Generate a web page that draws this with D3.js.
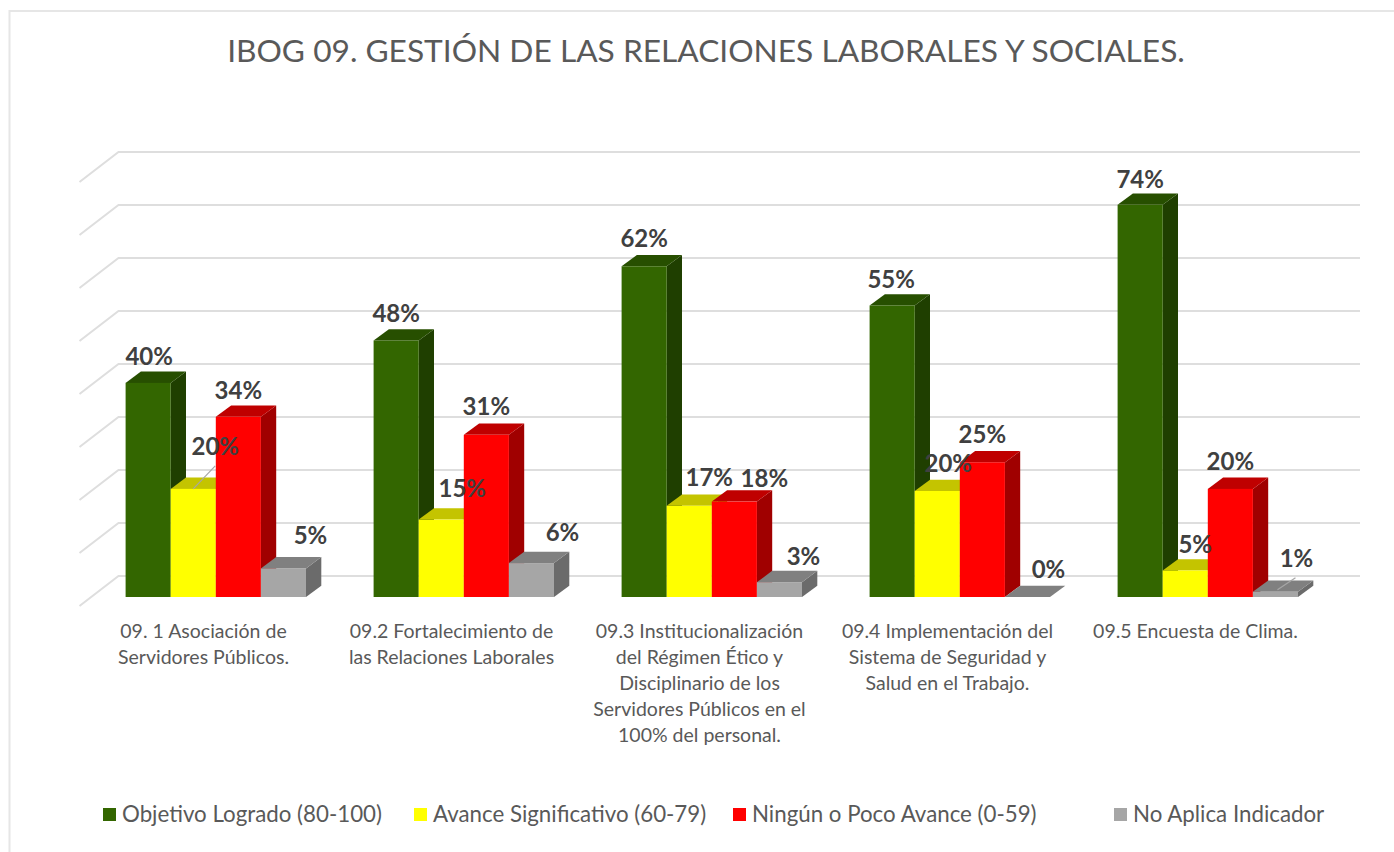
<!DOCTYPE html>
<html>
<head>
<meta charset="utf-8">
<script src="https://cdn.jsdelivr.net/npm/d3@7"></script>
<style>
  html, body { margin: 0; padding: 0; background: #fff; }
  svg { display: block; font-family: Lato, "Open Sans", sans-serif; }
</style>
</head>
<body>
<div id="chart"></div>
<script>
const categories = ['09.1', '09.2', '09.3', '09.4', '09.5'];
const categoryLabels = [
  ['09. 1 Asociación de', 'Servidores Públicos.'],
  ['09.2 Fortalecimiento de', 'las Relaciones Laborales'],
  ['09.3 Institucionalización', 'del Régimen Ético y', 'Disciplinario de los', 'Servidores Públicos en el', '100% del personal.'],
  ['09.4 Implementación del', 'Sistema de Seguridad y', 'Salud en el Trabajo.'],
  ['09.5 Encuesta de Clima.']
];
const seriesNames = [
  'Objetivo Logrado (80-100)',
  'Avance Significativo (60-79)',
  'Ningún o Poco Avance (0-59)',
  'No Aplica Indicador'
];
// the labels show them rounded
const logrado = [40.4, 48.4, 62.4, 55, 74];
const avance = [20.4, 14.6, 17.2, 20, 5];
const ninguno = [34, 30.6, 18, 25.4, 20.4];
const noAplica = [5.4, 6.4, 2.8, 0, 1];
const seriesValues = [logrado, avance, ninguno, noAplica];
const yTicks = [0, 10, 20, 30, 40, 50, 60, 70, 80];

const frontColors = ['#336600', '#ffff00', '#ff0000', '#a6a6a6'];
const topColors = ['#274f00', '#c4c400', '#bf0000', '#808080'];
const sideColors = ['#1f3f00', '#a8a800', '#a00000', '#6b6b6b'];

// moved labels, [dx, dy] from the centre of the bar's top edge, by category then series
const labelOffsets = [
  [[1, 18], [22, 34], [0, 18], [27, 24]],
  [[0, 18], [21, 23], [0, 20], [31, 22]],
  [[0, 19], [20, 20], [30, 15], [24, 17]],
  [[-1, 18], [11, 19], [0, 19], [21, 19]],
  [[0, 17], [10, 18], [0, 19], [21, 25]]
];
const legendX = [103, 414, 733, 1114];

const width = 1394;
const height = 852;
const wall = { dx: 39, dy: 30 };
const gap = { dx: 12, dy: 9 };
const bar = { dx: 15.3, dy: 11.3 };

const svg = d3.select('#chart').append('svg')
  .attr('width', width)
  .attr('height', height);

const x0 = d3.scaleBand().domain(categories).range([91.5, 1331.5]);
const x1 = d3.scaleBand().domain(d3.range(seriesNames.length)).range([34.1, 214.5]);
const y = d3.scaleLinear().domain([0, 80]).range([597, 173]);

// frame, only top and left are visible in the picture
svg.append('path')
  .attr('d', `M9.5,${height}V11H${width}`)
  .attr('fill', 'none')
  .attr('stroke', '#e6e6e6')
  .attr('stroke-width', 2);

svg.append('text')
  .attr('x', 706)
  .attr('y', 62)
  .attr('text-anchor', 'middle')
  .attr('font-size', 31.7)
  .attr('fill', '#595959')
  .text('IBOG 09. GESTIÓN DE LAS RELACIONES LABORALES Y SOCIALES.');

svg.append('g')
  .attr('fill', 'none')
  .attr('stroke', '#dedede')
  .attr('stroke-width', 2)
  .selectAll('path')
  .data(yTicks)
  .join('path')
  .attr('d', d => {
    const left = x0.range()[0] - gap.dx;
    const right = x0.range()[1] - gap.dx + wall.dx + 1.5;
    const front = y(d) + gap.dy;
    return `M${left},${front}L${left + wall.dx},${front - wall.dy}H${right}`;
  });

const groups = svg.append('g')
  .selectAll('g')
  .data(categories)
  .join('g')
  .attr('transform', d => `translate(${x0(d)},0)`);

groups.each(function (cat, c) {
  const g = d3.select(this);
  seriesValues.forEach((values, s) => {
    const left = x1(s);
    const right = left + x1.bandwidth();
    const top = y(values[c]);
    const bottom = y(0);
    g.append('path')
      .attr('fill', sideColors[s])
      .attr('d', `M${right},${top}L${right + bar.dx},${top - bar.dy}V${bottom - bar.dy}L${right},${bottom}Z`);
    g.append('path')
      .attr('fill', topColors[s])
      .attr('d', `M${left},${top}L${left + bar.dx},${top - bar.dy}H${right + bar.dx}L${right},${top}Z`);
    if (values[c] > 0) {
      g.append('rect')
        .attr('x', left)
        .attr('y', top)
        .attr('width', x1.bandwidth())
        .attr('height', bottom - top)
        .attr('fill', frontColors[s]);
    }
  });
});

// leader lines for the two labels that were dragged away from their bars
function leader(c, s, dx, dy, dx2, dy2) {
  const cx = x0(categories[c]) + x1(s) + x1.bandwidth() / 2;
  const top = y(seriesValues[s][c]);
  svg.append('line')
    .attr('x1', cx + dx).attr('y1', top + dy)
    .attr('x2', cx + dx2).attr('y2', top + dy2)
    .attr('stroke', '#a6a6a6')
    .attr('stroke-width', 1.2);
}
leader(0, 1, 0, 0, 22, -23);
leader(4, 3, 2, -2, 20, -14);

groups.each(function (cat, c) {
  const g = d3.select(this);
  seriesValues.forEach((values, s) => {
    g.append('text')
      .attr('x', x1(s) + x1.bandwidth() / 2 + labelOffsets[c][s][0])
      .attr('y', y(values[c]) - labelOffsets[c][s][1])
      .attr('text-anchor', 'middle')
      .attr('font-size', 24)
      .attr('font-weight', 700)
      .attr('fill', '#404040')
      .text(Math.round(values[c]) + '%');
  });
});

const catText = svg.append('g')
  .selectAll('text')
  .data(categories)
  .join('text')
  .attr('text-anchor', 'middle')
  .attr('font-size', 19.5)
  .attr('fill', '#595959');

catText.selectAll('tspan')
  .data((d, i) => categoryLabels[i].map(line => ({ line, cat: d })))
  .join('tspan')
  .attr('x', d => x0(d.cat) + x0.bandwidth() / 2 - gap.dx)
  .attr('y', (d, i) => 638 + i * 26)
  .text(d => d.line);

const legend = svg.append('g')
  .selectAll('g')
  .data(seriesNames)
  .join('g')
  .attr('transform', (d, i) => `translate(${legendX[i]},808)`);

legend.append('rect')
  .attr('width', 13)
  .attr('height', 13)
  .attr('fill', (d, i) => frontColors[i]);

legend.append('text')
  .attr('x', 19)
  .attr('y', 14)
  .attr('font-size', 22.3)
  .attr('fill', '#595959')
  .text(d => d);
</script>
</body>
</html>
